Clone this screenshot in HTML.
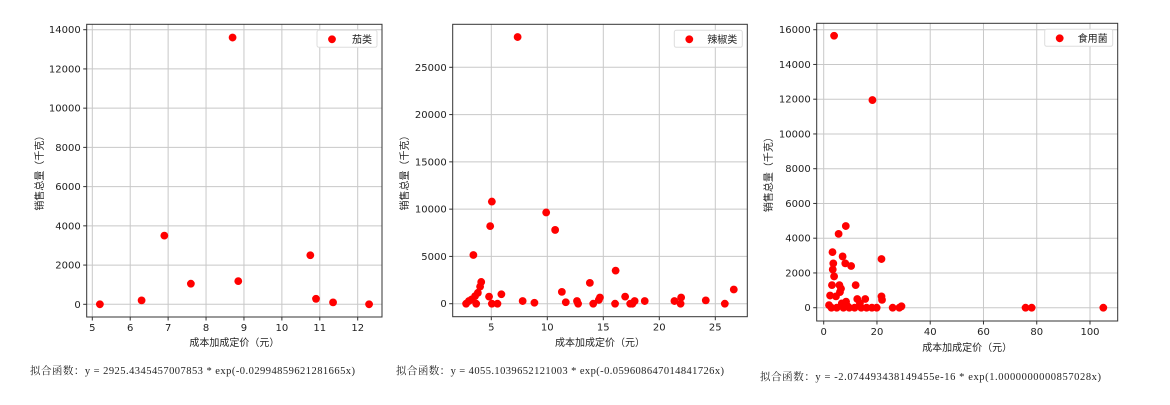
<!DOCTYPE html>
<html><head><meta charset="utf-8"><style>
html,body{margin:0;padding:0;background:#fff;}
svg{display:block;font-family:"DejaVu Sans","Liberation Sans","Noto Sans CJK SC",sans-serif;}
.tk{font-size:10px;fill:#222;}
.lb{font-size:10px;fill:#222;font-family:"Noto Sans CJK SC","WenQuanYi Zen Hei",sans-serif;}
.fm{font-size:10.5px;fill:#222;font-family:"Liberation Serif","Noto Serif CJK SC",serif;}
</style></head><body>
<svg id="c" width="1170" height="405" viewBox="0 0 1170 405"></svg>
<script>
const c1x=[5.2,6.3,6.9,7.6,8.7,8.85,10.75,10.9,11.35,12.3];
const c1y=[0,200,3500,1050,13600,1180,2500,280,100,0];
const c2x=[7.35,5.05,4.9,9.9,10.7,3.4,16.1,13.8,11.3,4.1,4.0,3.8,3.55,3.25,3.0,2.75,3.65,4.8,5.9,5.05,5.55,7.8,8.85,11.65,12.65,12.75,14.1,14.7,14.6,16.05,16.95,17.4,17.8,18.7,21.35,21.95,21.9,24.15,25.85,26.65,17.6];
const c2y=[28200,10800,8200,9650,7800,5150,3500,2200,1250,2300,1800,1150,800,450,280,0,0,750,1000,0,0,280,100,150,280,0,0,650,400,0,750,0,280,280,280,650,0,350,0,1500,0];
const c3x=[3.9,18.3,8.3,5.6,3.3,7.1,3.6,8.1,10.3,3.4,3.9,3.1,5.9,6.5,12.0,21.7,21.7,21.9,2.4,4.6,6.1,8.4,12.6,15.6,13.6,2.0,2.9,4.9,7.4,9.6,11.6,14.1,16.1,18.1,19.9,25.9,29.2,28.4,75.8,78.1,105,6.8,8.9];
const c3y=[15650,11950,4700,4250,3200,2950,2550,2550,2400,2200,1800,1300,1300,1100,1300,2800,650,450,700,650,900,350,500,500,250,150,0,0,0,0,0,0,0,0,0,0,80,0,0,0,0,250,100];
const c1xt=[5,6,7,8,9,10,11,12], c1yt=[0,2000,4000,6000,8000,10000,12000,14000];
const c2xt=[5,10,15,20,25], c2yt=[0,5000,10000,15000,20000,25000];
const c3xt=[0,20,40,60,80,100], c3yt=[0,2000,4000,6000,8000,10000,12000,14000,16000];
const names=["茄类","辣椒类","食用菌"];
const formulas=["拟合函数：y = 2925.4345457007853 * exp(-0.0299485962128 1665x)".replace(" 1665","1665"),
"拟合函数：y = 4055.1039652121003 * exp(-0.059608647014841726x)",
"拟合函数：y = -2.074493438149455e-16 * exp(1.0000000000857028x)"];
const NS="http://www.w3.org/2000/svg";
const svg=document.getElementById('c');
function mk(t,a,p){const e=document.createElementNS(NS,t);for(const k in a)e.setAttribute(k,a[k]);(p||svg).appendChild(e);return e;}
const panels=[
 {xs:c1x,ys:c1y,xt:c1xt,yt:c1yt,box:[86.7,24.3,382,317],xa:[5,92.3,12,357.7],ya:[0,304.3,14000,29.7],yl:43,xly:346,fx:30,fy:374,fw:325},
 {xs:c2x,ys:c2y,xt:c2xt,yt:c2yt,box:[452.7,24.3,747.3,316.7],xa:[5,491.3,25,715.3],ya:[0,303.7,25000,67.3],yl:408,xly:346,fx:396,fy:374,fw:328},
 {xs:c3x,ys:c3y,xt:c3xt,yt:c3yt,box:[816.7,23.3,1117.7,321],xa:[0,823.7,100,1090],ya:[0,307.7,16000,29.7],yl:772,xly:351,fx:760,fy:380,fw:341}
];
panels.forEach((p,i)=>{
 const g=mk('g',{});
 
 
 const X=v=>p.xa[1]+(v-p.xa[0])*(p.xa[3]-p.xa[1])/(p.xa[2]-p.xa[0]);
 const Y=v=>p.ya[1]+(v-p.ya[0])*(p.ya[3]-p.ya[1])/(p.ya[2]-p.ya[0]);
 const [l,t,r,b]=p.box;
 p.xt.forEach(v=>{const x=X(v);
  const ln=mk('line',{x1:x,x2:x,y1:t,y2:b,stroke:'#c8c8c8','stroke-width':1},g);
  
  mk('line',{x1:x,x2:x,y1:b,y2:b+3.5,stroke:'#333'},g);
  const tx=mk('text',{x:x,y:b+14,'text-anchor':'middle',class:'tk'},g);tx.textContent=v;
  });
 p.yt.forEach(v=>{const y=Y(v);
  const ln=mk('line',{x1:l,x2:r,y1:y,y2:y,stroke:'#c8c8c8','stroke-width':1},g);
  
  mk('line',{x1:l-3.5,x2:l,y1:y,y2:y,stroke:'#333'},g);
  const tx=mk('text',{x:l-6,y:y+3.5,'text-anchor':'end',class:'tk'},g);tx.textContent=v;
  });
 p.xs.forEach((v,k)=>{const d=mk('circle',{cx:X(v),cy:Y(p.ys[k]),r:3.9,fill:'#f00'},g);
  });
 const fr=mk('rect',{x:l,y:t,width:r-l,height:b-t,fill:'none',stroke:'#333','stroke-width':1},g);
 
 const lw=i==0?60:68;
 const lg=mk('g',{},g);
 
 mk('rect',{x:r-5-lw,y:t+6,width:lw,height:17,rx:2,fill:'#fff',stroke:'#ddd'},lg);
 mk('circle',{cx:r-5-lw+15,cy:t+15,r:3.9,fill:'#f00'},lg);
 const lt=mk('text',{x:r-10,y:t+18.5,'text-anchor':'end',class:'lb'},lg);lt.textContent=names[i];
 const xl=mk('text',{x:(l+r)/2,y:p.xly,'text-anchor':'middle',class:'lb'},g);xl.textContent='成本加成定价（元）';
 
 const cy=(t+b)/2;
 const yl=mk('text',{x:p.yl,y:cy,'text-anchor':'middle',class:'lb',transform:`rotate(-90 ${p.yl} ${cy})`},g);yl.textContent='销售总量（千克）';
 
 const fm=mk('text',{x:p.fx,y:p.fy,class:'fm',textLength:p.fw,lengthAdjust:'spacing'},g);fm.textContent=formulas[i];
 
});
</script>
</body></html>
